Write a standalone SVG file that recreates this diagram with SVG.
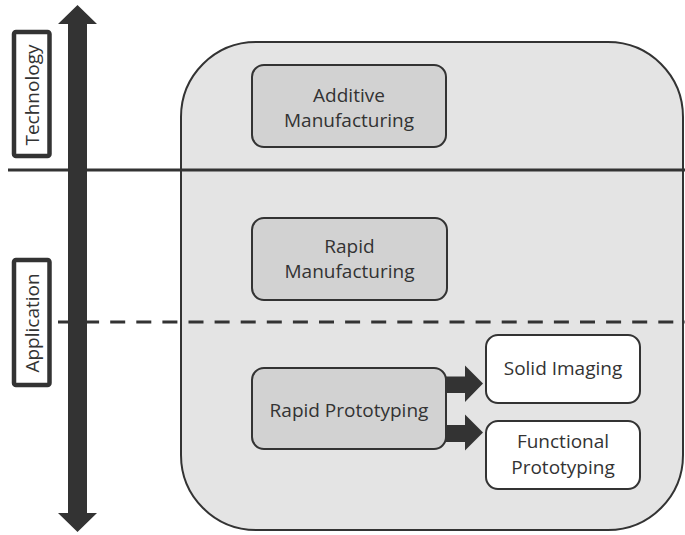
<svg xmlns="http://www.w3.org/2000/svg" width="685" height="535" viewBox="0 0 685 535">
  <style>
    .lbl { font-family: "Open Sans", "Noto Sans", "Liberation Sans", sans-serif; font-size: 19px; fill: #333; text-anchor: middle; }
    .node { fill: #d2d2d2; stroke: #333; stroke-width: 2; }
    .node-light { fill: #ffffff; stroke: #333; stroke-width: 2; }
    .tag { fill: #ffffff; stroke: #333; stroke-width: 4.5; }
    .dark { fill: #333; }
  </style>
  <rect width="685" height="535" fill="#ffffff"/>

  <!-- container for all concepts -->
  <g id="container">
    <rect x="181" y="42" width="502" height="488" rx="75" ry="75" fill="#e4e4e4" stroke="#333" stroke-width="2"/>
  </g>

  <!-- level dividers -->
  <g id="dividers">
    <line x1="8" y1="170" x2="685" y2="170" stroke="#333" stroke-width="3"/>
    <line x1="58" y1="322" x2="685" y2="322" stroke="#333" stroke-width="3" stroke-dasharray="15 11.1"/>
  </g>

  <!-- vertical axis, double-headed -->
  <g id="axis">
    <polygon class="dark" points="77.5,5 97,24 87,24 87,513 97,513 77.5,532 58,513 68,513 68,24 58,24"/>
  </g>

  <g id="tag-technology">
    <rect class="tag" x="14" y="32" width="35.5" height="124" rx="2"/>
    <text class="lbl" transform="translate(39,95) rotate(-90)">Technology</text>
  </g>

  <g id="tag-application">
    <rect class="tag" x="14" y="260" width="35.5" height="125" rx="2"/>
    <text class="lbl" transform="translate(39,323) rotate(-90)">Application</text>
  </g>

  <g id="additive-manufacturing">
    <rect class="node" x="252" y="65" width="194" height="82" rx="12"/>
    <text class="lbl" x="349" y="101.5">Additive</text>
    <text class="lbl" x="349" y="126.5">Manufacturing</text>
  </g>

  <g id="rapid-manufacturing">
    <rect class="node" x="252" y="218" width="195" height="82" rx="12"/>
    <text class="lbl" x="349.5" y="253">Rapid</text>
    <text class="lbl" x="349.5" y="278">Manufacturing</text>
  </g>

  <g id="rapid-prototyping">
    <rect class="node" x="252" y="368" width="194" height="81" rx="12"/>
    <text class="lbl" x="349" y="416.5">Rapid Prototyping</text>
  </g>

  <g id="solid-imaging">
    <rect class="node-light" x="486" y="335" width="154" height="68" rx="12"/>
    <text class="lbl" x="563" y="375">Solid Imaging</text>
  </g>

  <g id="functional-prototyping">
    <rect class="node-light" x="486" y="421" width="154" height="68" rx="12"/>
    <text class="lbl" x="563" y="448">Functional</text>
    <text class="lbl" x="563" y="474">Prototyping</text>
  </g>

  <!-- block arrows from rapid prototyping -->
  <g id="connectors">
    <polygon class="dark" points="446,376.5 465,376.5 465,365.5 483,383.5 465,402 465,393 446,393"/>
    <polygon class="dark" points="446,425 465,425 465,414.5 483,432.5 465,450.5 465,442 446,442"/>
  </g>
</svg>
